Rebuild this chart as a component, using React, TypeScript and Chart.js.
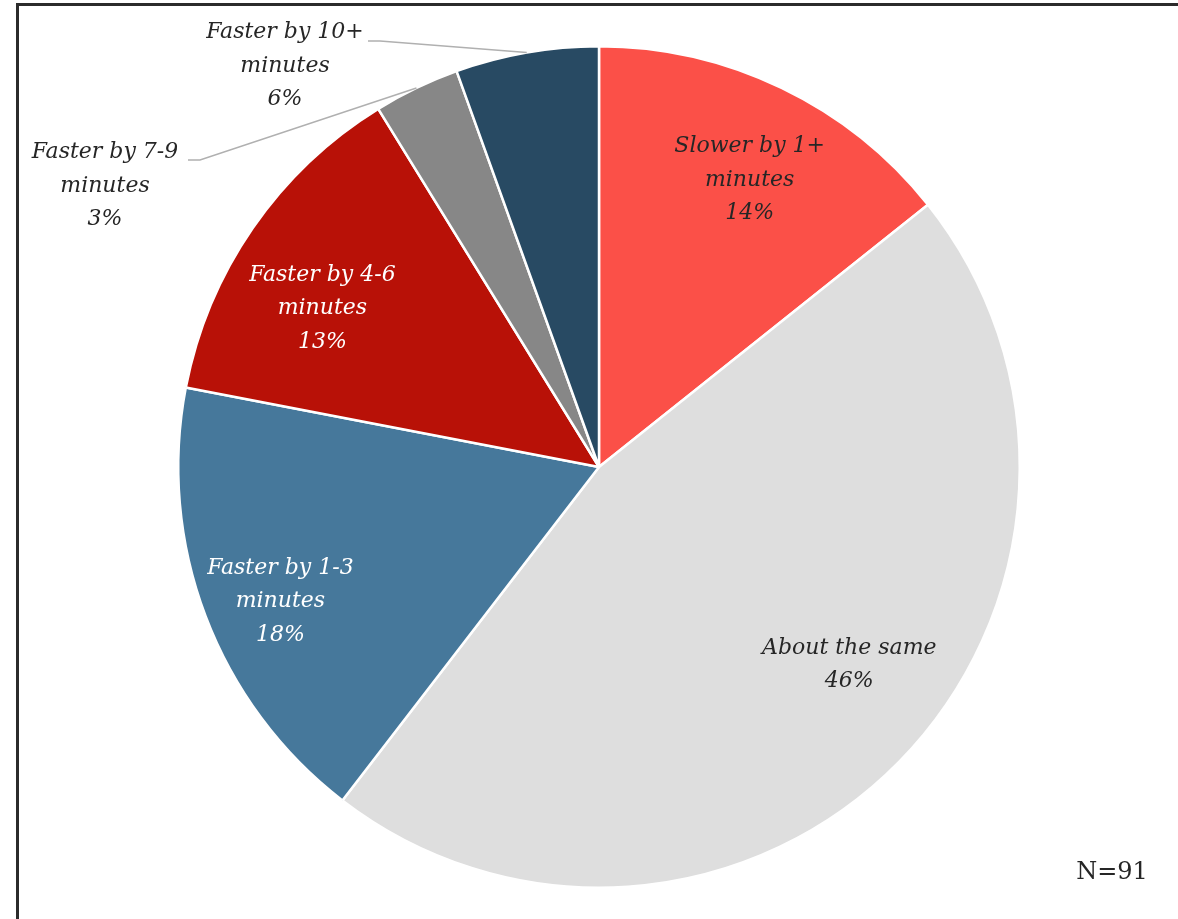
import React, { useEffect, useRef } from "react";
import { Chart, registerables } from "chart.js";

Chart.register(...registerables);

const categories = [
  "Slower by 1+ minutes",
  "About the same",
  "Faster by 1-3 minutes",
  "Faster by 4-6 minutes",
  "Faster by 7-9 minutes",
  "Faster by 10+ minutes",
];
const labelLines = [
  ["Slower by 1+", "minutes"],
  ["About the same"],
  ["Faster by 1-3", "minutes"],
  ["Faster by 4-6", "minutes"],
  ["Faster by 7-9", "minutes"],
  ["Faster by 10+", "minutes"],
];
const counts = [13, 42, 16, 12, 3, 5];
const percentLabels = ["14%", "46%", "18%", "13%", "3%", "6%"];
const sliceColors = ["#FB5048", "#DEDEDE", "#46789B", "#B81107", "#878787", "#284A63"];
const textColors = ["#262626", "#262626", "#FFFFFF", "#FFFFFF", "#262626", "#262626"];
const sampleNote = "N=91";

// label layout: [angle offset deg, radius fraction, y nudge] for inside labels
const insideLayout: Record<number, [number, number, number]> = {
  0: [2, 0.77, 0],
  1: [-6.5, 0.755, 2],
  2: [-1.8, 0.82, 2],
  3: [-4.5, 0.76, 2],
};
const outsideLayout: Record<number, { text: [number, number]; elbow: [number, number]; start: [number, number] }> = {
  4: { text: [105, 186], start: [188, 160], elbow: [200, 160] },
  5: { text: [285, 66], start: [368, 41], elbow: [380, 41] },
};

const FONT = "italic 22px 'DejaVu Serif'";
const LINE_H = 33.5;

const labelPlugin = {
  id: "sliceLabels",
  afterDatasetsDraw(chart: any) {
    const ctx = chart.ctx as CanvasRenderingContext2D;
    const meta = chart.getDatasetMeta(0);
    ctx.save();
    ctx.font = FONT;
    ctx.textAlign = "center";
    ctx.textBaseline = "middle";
    meta.data.forEach((arc: any, i: number) => {
      const { x, y, startAngle, endAngle, outerRadius } = arc.getProps(
        ["x", "y", "startAngle", "endAngle", "outerRadius"],
        true
      );
      const mid = (startAngle + endAngle) / 2;
      const lines = [...labelLines[i], percentLabels[i]];
      let cx: number, cy: number;
      if (insideLayout[i]) {
        const [off, frac, dy] = insideLayout[i];
        const a = mid + (off * Math.PI) / 180;
        cx = x + Math.cos(a) * outerRadius * frac;
        cy = y + Math.sin(a) * outerRadius * frac + dy;
      } else {
        const o = outsideLayout[i];
        cx = o.text[0];
        cy = o.text[1];
        const ex = x + Math.cos(mid) * outerRadius;
        const ey = y + Math.sin(mid) * outerRadius;
        ctx.strokeStyle = "#B0B0B0";
        ctx.lineWidth = 1.5;
        ctx.beginPath();
        ctx.moveTo(o.start[0], o.start[1]);
        ctx.lineTo(o.elbow[0], o.elbow[1]);
        ctx.lineTo(ex, ey);
        ctx.stroke();
      }
      ctx.fillStyle = textColors[i];
      const top = cy - ((lines.length - 1) * LINE_H) / 2;
      lines.forEach((ln, k) => {
        ctx.fillText(ln, cx, top + k * LINE_H);
      });
    });
    ctx.font = "24px 'DejaVu Serif'";
    ctx.fillStyle = "#262626";
    ctx.textAlign = "center";
    ctx.fillText(sampleNote, 1112, 873);
    ctx.restore();
  },
};

export default function App() {
  const ref = useRef<HTMLCanvasElement>(null);
  useEffect(() => {
    if (!ref.current) return;
    const chart = new Chart(ref.current, {
      type: "pie",
      data: {
        labels: categories,
        datasets: [
          {
            data: counts,
            backgroundColor: sliceColors,
            borderColor: "#FFFFFF",
            borderWidth: 2.5,
          },
        ],
      },
      options: {
        animation: false,
        responsive: false,
        maintainAspectRatio: false,
        layout: { padding: { left: 177, right: 157, top: 45, bottom: 30 } },
        plugins: {
          legend: { display: false },
          tooltip: { enabled: false },
        },
      },
      plugins: [labelPlugin],
    });
    return () => chart.destroy();
  }, []);
  return (
    <div style={{ position: "fixed", left: 0, top: 0, width: 1178, height: 919, background: "#fff", overflow: "hidden" }}>
      <canvas ref={ref} width={1178} height={919} style={{ position: "absolute", left: 0, top: 0 }} />
      <div
        style={{
          position: "absolute",
          left: 16,
          top: 3,
          width: 1200,
          height: 1000,
          borderLeft: "3px solid #2B2B2B",
          borderTop: "3px solid #2B2B2B",
          pointerEvents: "none",
        }}
      />
    </div>
  );
}
